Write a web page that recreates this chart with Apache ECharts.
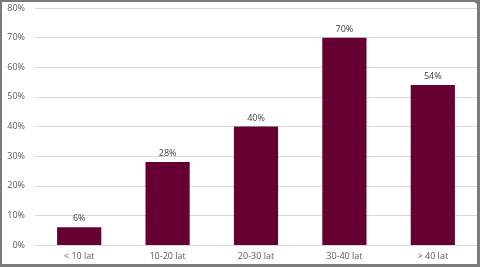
<!DOCTYPE html>
<html><head><meta charset="utf-8">
<script src="https://cdn.jsdelivr.net/npm/echarts@6/dist/echarts.min.js"></script>
<style>
html,body{margin:0;padding:0;width:480px;height:267px;background:#7b7b7b;overflow:hidden;}
#c{position:absolute;left:2px;top:2px;width:475px;height:262px;background:#fff;border-top-right-radius:4px;}
</style></head><body>
<div id="c"></div>
<script>
const categories = ['< 10 lat','10-20 lat','20-30 lat','30-40 lat','> 40 lat'];
const values = [6, 28, 40, 70, 54];
const yTicks = [0,10,20,30,40,50,60,70,80];
const chart = echarts.init(document.getElementById('c'), null, {renderer:'canvas'});
chart.setOption({
  animation:false,
  grid:{left:33, right:0, top:6, bottom:19},
  xAxis:{type:'category', data:categories,
    axisLine:{lineStyle:{color:'#d9d9d9'}}, axisTick:{show:false},
    axisLabel:{color:'#595959', fontSize:9, fontFamily:'Open Sans', margin:7}},
  yAxis:{type:'value', min:0, max:80, interval:10,
    axisLabel:{formatter:'{value}%', color:'#595959', fontSize:9, fontFamily:'Open Sans', margin:10},
    splitLine:{lineStyle:{color:'#d9d9d9'}}, axisLine:{show:false}, axisTick:{show:false}},
  series:[{type:'bar', data:values, barWidth:'50%',
    itemStyle:{color:'#660033'},
    label:{show:true, position:'top', formatter:'{c}%', color:'#404040', fontSize:9, fontFamily:'Open Sans', distance:4}}]
});
</script></body></html>
